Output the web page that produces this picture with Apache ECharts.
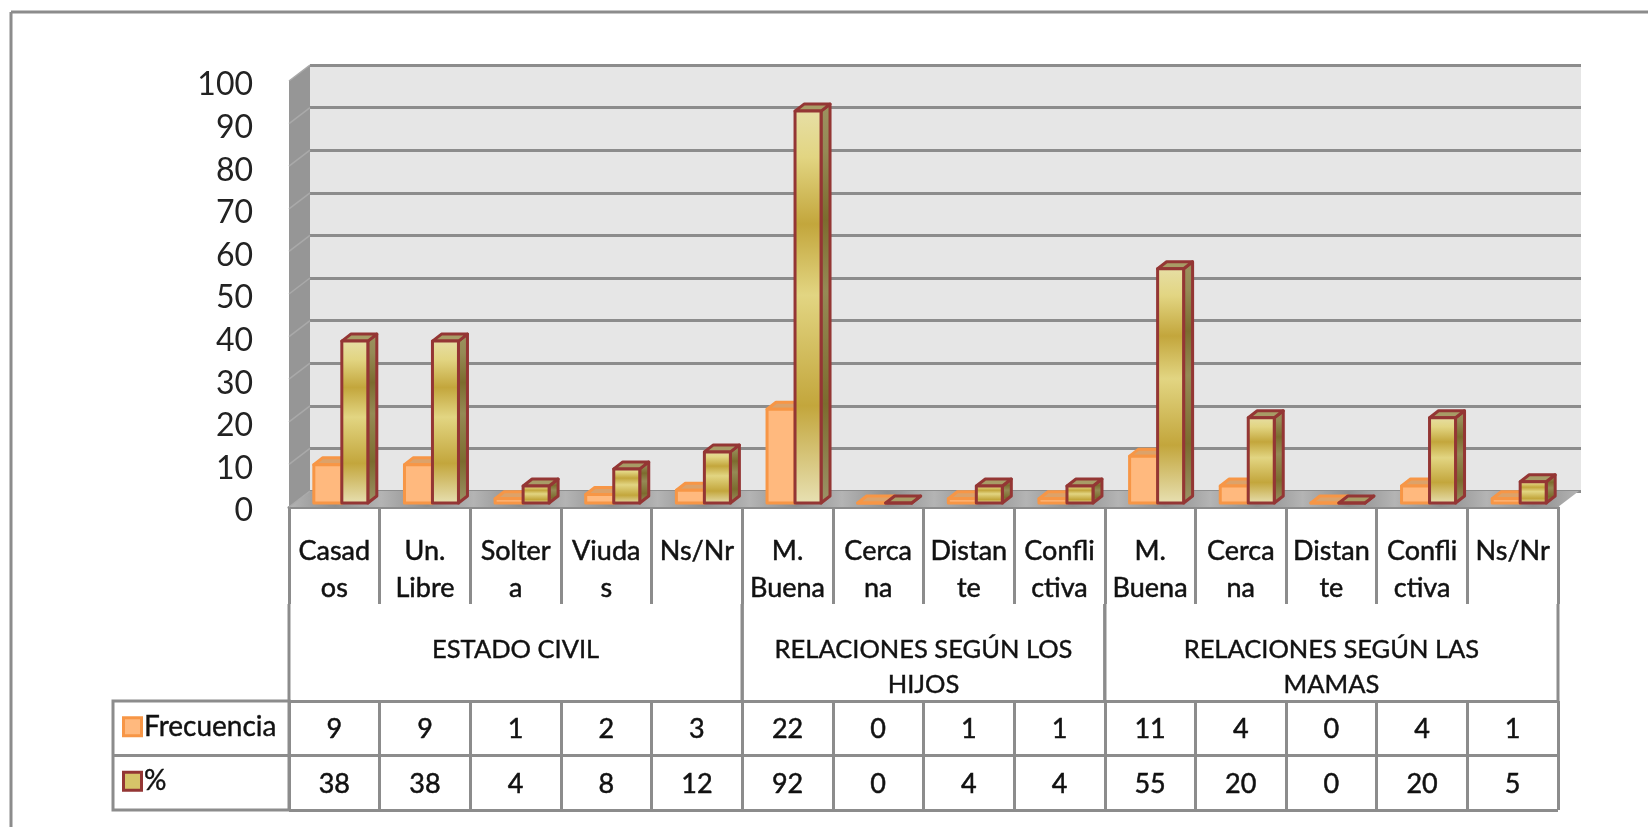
<!DOCTYPE html>
<html>
<head>
<meta charset="utf-8">
<style>
  html, body { margin: 0; padding: 0; background: #fff; }
  #main { width: 1648px; height: 827px; filter: blur(0.5px); }
</style>
<script src="https://cdn.jsdelivr.net/npm/echarts@6/dist/echarts.min.js"></script>
</head>
<body>
<div id="main"></div>
<script>
const categorias = ['Casad\nos', 'Un.\nLibre', 'Solter\na', 'Viuda\ns', 'Ns/Nr', 'M.\nBuena', 'Cerca\nna',
    'Distan\nte', 'Confli\nctiva', 'M.\nBuena', 'Cerca\nna', 'Distan\nte', 'Confli\nctiva', 'Ns/Nr'];
const frecuencia = [9, 9, 1, 2, 3, 22, 0, 1, 1, 11, 4, 0, 4, 1];
const porcentaje = [38, 38, 4, 8, 12, 92, 0, 4, 4, 55, 20, 0, 20, 5];
const grupos = ['ESTADO CIVIL', 'RELACIONES SEGÚN LOS\nHIJOS', 'RELACIONES SEGÚN LAS\nMAMAS'];
const grupoInicio = [0, 5, 9];
const grupoFin = [4, 8, 13];
const filas = ['Frecuencia', '%'];
const ticksY = [0, 10, 20, 30, 40, 50, 60, 70, 80, 90, 100];

const FONT = 'Lato';
const GRIS = '#8c8c8c';
const TEXTO = '#111';
const FONDO_X = 21, FONDO_Y = 16;   // wall depth
const BARRA_X = 9, BARRA_Y = 7;     // bar depth
const ANCHO_NAR = 28, ANCHO_ORO = 26;

var myChart = echarts.init(document.getElementById('main'), null, { renderer: 'canvas' });

// repeating light/dark bands of the gold bars
function oro(c1, c2, c3, c4) {
    return new echarts.graphic.LinearGradient(0, 0, 0, 1, [
        { offset: 0, color: c1 }, { offset: 0.12, color: c2 }, { offset: 0.29, color: c3 },
        { offset: 0.47, color: c2 }, { offset: 0.75, color: c3 }, { offset: 1, color: c4 }
    ]);
}

function suelo() {
    var stops = [];
    for (var i = 0; i < 14; i++) {
        stops.push({ offset: i / 14, color: '#b4b4b4' });
        stops.push({ offset: (i + 0.5) / 14, color: '#8e8e8e' });
    }
    stops.push({ offset: 1, color: '#b4b4b4' });
    return new echarts.graphic.LinearGradient(0, 0, 1, 0, stops);
}

function poly(points, fill, stroke, lw) {
    return { type: 'polygon', shape: { points: points }, style: { fill: fill, stroke: stroke, lineWidth: lw, lineJoin: 'round' } };
}

function caja(x, w, yTop, yBase, front, side, top, stroke) {
    return { type: 'group', children: [
        poly([[x + w, yBase], [x + w + BARRA_X, yBase - BARRA_Y], [x + w + BARRA_X, yTop - BARRA_Y], [x + w, yTop]], side, stroke, 3),
        poly([[x, yTop], [x + BARRA_X, yTop - BARRA_Y], [x + w + BARRA_X, yTop - BARRA_Y], [x + w, yTop]], top, stroke, 3),
        poly([[x, yTop], [x + w, yTop], [x + w, yBase], [x, yBase]], front, stroke, 3)
    ] };
}

function barraNaranja(params, api) {
    var p = api.coord([api.value(0), api.value(1)]);
    var base = api.coord([api.value(0), 0]);
    return caja(p[0] - ANCHO_NAR, ANCHO_NAR, p[1], base[1], '#ffb97e', '#e39a58', '#dca26a', '#f79646');
}

function barraOro(params, api) {
    var p = api.coord([api.value(0), api.value(1)]);
    var base = api.coord([api.value(0), 0]);
    return caja(p[0], ANCHO_ORO, p[1], base[1],
        oro('#e7dfa6', '#e2d582', '#c3a63c', '#e8e1b4'),
        oro('#9c9260', '#958a55', '#7c6c2e', '#9c9468'),
        '#a89c66', '#943634');
}

function paredes(params, api) {
    var p = api.coord([0, api.value(0)]);
    var hijos = [];
    if (params.dataIndex === 0) {
        var t = api.coord([0, 100]);
        var fin = api.coord([13, 0]);
        var der = fin[0] + api.size([1, 0])[0] / 2;
        var izq = p[0] - api.size([1, 0])[0] / 2;
        hijos.push(poly([[izq, t[1]], [izq + FONDO_X, t[1] - FONDO_Y], [izq + FONDO_X, p[1] - FONDO_Y], [izq, p[1]]], '#969696'));
        hijos.push(poly([[izq, p[1]], [izq + FONDO_X, p[1] - FONDO_Y], [der + FONDO_X, p[1] - FONDO_Y], [der, p[1]]], suelo()));
    }
    var x0 = p[0] - api.size([1, 0])[0] / 2;
    hijos.push({ type: 'line', shape: { x1: x0, y1: p[1], x2: x0 + FONDO_X, y2: p[1] - FONDO_Y },
        style: { stroke: '#a9a9a9', lineWidth: 1.5 } });
    return { type: 'group', children: hijos };
}

function celda(params, api) {
    var p = api.coord([api.value(0), api.value(1)]);
    return { type: 'text', x: p[0], y: p[1] + 1.5, style: { text: String(api.value(2)), font: '27px ' + FONT, fill: TEXTO, stroke: TEXTO, lineWidth: 0.5, align: 'center', verticalAlign: 'middle' } };
}

function grupo(params, api) {
    var a = api.coord([grupoInicio[params.dataIndex], 0]);
    var b = api.coord([grupoFin[params.dataIndex], 0]);
    var w = api.size([1, 0])[0];
    var arriba = a[1] - api.size([0, 1])[1] / 2;
    var xa = a[0] - w / 2, xb = b[0] + w / 2;
    function sep(x) {
        return { type: 'line', shape: { x1: x, y1: arriba - 97, x2: x, y2: arriba }, style: { stroke: GRIS, lineWidth: 3 } };
    }
    return { type: 'group', children: [
        sep(xa), sep(xb),
        { type: 'text', x: (xa + xb) / 2, y: arriba - 69, style: { text: grupos[params.dataIndex], font: '25.5px ' + FONT, fill: TEXTO, stroke: TEXTO, lineWidth: 0.4, align: 'center', verticalAlign: 'top', lineHeight: 35 } }
    ] };
}

function matriz(valores, fila) {
    return valores.map(function (v, i) { return [i, fila, v]; });
}
function puntos(valores) {
    return valores.map(function (v, i) { return [i, v]; });
}

var ejeOculto = { type: 'category', data: categorias, show: false };

var option = {
    backgroundColor: '#fff',
    animation: false,
    textStyle: { fontFamily: FONT },
    grid: [
        { left: 310, top: 65, width: 1271, height: 426, show: true, backgroundColor: '#e6e6e6', borderWidth: 0 },
        { left: 289, top: 81, width: 1269, height: 426 },
        { left: 296.5, top: 77, width: 1269, height: 426 },
        { left: 289, top: 701, width: 1269, height: 109 }
    ],
    xAxis: [
        Object.assign({ gridIndex: 0 }, ejeOculto),
        {
            type: 'category', gridIndex: 1, data: categorias,
            axisLine: { show: true, lineStyle: { color: GRIS, width: 3 } },
            axisTick: { show: true, length: 97, interval: 0, lineStyle: { color: GRIS, width: 3 } },
            axisLabel: { interval: 0, margin: 26, fontFamily: FONT, fontSize: 27, lineHeight: 37, color: TEXTO, textBorderColor: TEXTO, textBorderWidth: 0.5 }
        },
        Object.assign({ gridIndex: 2 }, ejeOculto),
        {
            type: 'category', gridIndex: 3, data: categorias,
            axisLine: { show: false }, axisTick: { show: false }, axisLabel: { show: false },
            splitLine: { show: true, interval: 0, lineStyle: { color: GRIS, width: 3 } }
        }
    ],
    yAxis: [
        {
            type: 'value', gridIndex: 0, min: 0, max: 100, interval: 10,
            axisLine: { show: false }, axisTick: { show: false }, axisLabel: { show: false },
            splitLine: { show: true, lineStyle: { color: GRIS, width: 3 } }
        },
        {
            type: 'value', gridIndex: 1, min: 0, max: 100, interval: 10,
            axisLine: { show: false }, axisTick: { show: false }, splitLine: { show: false },
            axisLabel: { margin: 36, verticalAlign: 'top', lineHeight: 8, fontFamily: FONT, fontSize: 32, color: '#222' }
        },
        { type: 'value', gridIndex: 2, min: 0, max: 100, interval: 10, show: false },
        {
            type: 'category', gridIndex: 3, data: filas, inverse: true,
            axisLine: { show: false }, axisTick: { show: false },
            splitLine: { show: true, interval: 0, lineStyle: { color: GRIS, width: 3 } },
            axisLabel: {
                interval: 0, margin: 164, align: 'left', padding: [0, 0, 3, 0],
                formatter: function (value, index) {
                    return (index === 0 ? '{nar|}' : '{oro|}') + '{t|' + value + '}';
                },
                rich: {
                    nar: { width: 15, height: 15, backgroundColor: '#ffb97e', borderColor: '#f79646', borderWidth: 3 },
                    oro: { width: 15, height: 15, backgroundColor: '#d6c469', borderColor: '#943634', borderWidth: 3 },
                    t: { fontFamily: FONT, fontSize: 28, color: TEXTO, textBorderColor: TEXTO, textBorderWidth: 0.4, padding: [0, 0, 0, 4] }
                }
            }
        }
    ],
    graphic: [
        { type: 'line', shape: { x1: 11, y1: 12, x2: 1648, y2: 12 }, style: { stroke: GRIS, lineWidth: 3 } },
        { type: 'line', shape: { x1: 11, y1: 12, x2: 11, y2: 827 }, style: { stroke: GRIS, lineWidth: 3 } },
        { type: 'rect', shape: { x: 113, y: 701, width: 176, height: 109 }, style: { fill: 'none', stroke: GRIS, lineWidth: 3 } },
        { type: 'line', shape: { x1: 113, y1: 755.5, x2: 289, y2: 755.5 }, style: { stroke: GRIS, lineWidth: 3 } }
    ],
    series: [
        { type: 'custom', name: 'paredes', xAxisIndex: 1, yAxisIndex: 1, renderItem: paredes, data: ticksY.map(function (t) { return [t]; }), encode: { y: 0 }, z: 1 },
        { type: 'custom', name: 'Frecuencia', xAxisIndex: 2, yAxisIndex: 2, renderItem: barraNaranja, data: puntos(frecuencia), encode: { x: 0, y: 1 }, z: 2 },
        { type: 'custom', name: '%', xAxisIndex: 2, yAxisIndex: 2, renderItem: barraOro, data: puntos(porcentaje), encode: { x: 0, y: 1 }, z: 3 },
        { type: 'custom', name: 'tablaFrecuencia', xAxisIndex: 3, yAxisIndex: 3, renderItem: celda, data: matriz(frecuencia, 0), z: 4 },
        { type: 'custom', name: 'tablaPorcentaje', xAxisIndex: 3, yAxisIndex: 3, renderItem: celda, data: matriz(porcentaje, 1), z: 4 },
        { type: 'custom', name: 'grupos', xAxisIndex: 3, yAxisIndex: 3, renderItem: grupo, data: grupos.map(function (g, i) { return [i, 0]; }), z: 4 }
    ]
};

myChart.setOption(option);
</script>
</body>
</html>
